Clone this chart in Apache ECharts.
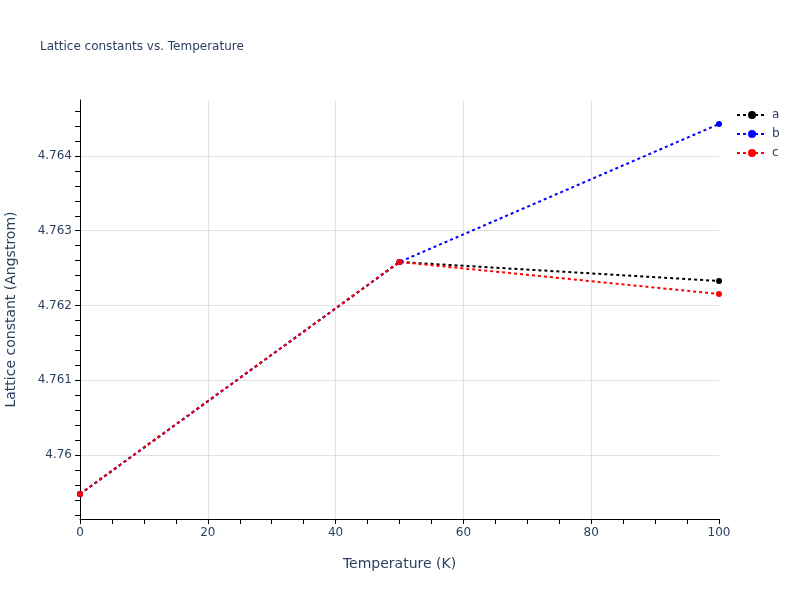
<!DOCTYPE html>
<html>
<head>
<meta charset="utf-8">
<script src="https://cdn.jsdelivr.net/npm/echarts@6/dist/echarts.min.js"></script>
<style>
    html, body { margin: 0; padding: 0; background: #fff; }
    #chart { width: 800px; height: 600px; }
</style>
</head>
<body>
<div id="chart"></div>
<script>
const temps = [0, 50, 100];
const aVals = [4.759478, 4.762582, 4.762328];
const bVals = [4.759478, 4.762582, 4.764428];
const cVals = [4.759478, 4.762582, 4.762154];
const yMajorTicks = [4.760, 4.761, 4.762, 4.763, 4.764];
const yMin = 4.759144;
const yMax = 4.764749;

// minor ticks every 0.0002 inside the range
const yMinorTicks = [];
for (let v = 4.7592; v <= yMax; v += 0.0002) {
    yMinorTicks.push(Math.round(v * 1e4) / 1e4);
}

const textColor = '#2a3f5f';
const font = '"DejaVu Sans", verdana, arial, sans-serif';

function lineSeries(name, color, vals) {
    return {
        name: name,
        type: 'line',
        yAxisIndex: 0,
        data: temps.map((t, i) => [t, vals[i]]),
        symbol: 'circle',
        symbolSize: 6,
        itemStyle: { color: color },
        lineStyle: { color: color, width: 2, type: [3, 3] },
        emphasis: { disabled: true }
    };
}

const chart = echarts.init(document.getElementById('chart'));
chart.setOption({
    animation: false,
    title: {
        text: 'Lattice constants vs. Temperature',
        left: 35,
        top: 36,
        textStyle: { fontFamily: font, fontSize: 12, fontWeight: 'normal', color: textColor }
    },
    legend: {
        orient: 'vertical',
        left: 731,
        top: 104,
        itemWidth: 30,
        itemHeight: 10,
        itemGap: 7,
        textStyle: { fontFamily: font, fontSize: 12, color: textColor },
        data: ['a', 'b', 'c']
    },
    grid: { left: 80, right: 81, top: 100, bottom: 81, outerBoundsMode: 'none', containLabel: false },
    xAxis: {
        type: 'value',
        min: 0,
        max: 100,
        interval: 20,
        name: 'Temperature (K)',
        nameLocation: 'middle',
        nameGap: 38,
        nameTextStyle: { fontFamily: font, fontSize: 14, color: textColor },
        axisLine: { show: true, onZero: false, lineStyle: { color: '#000', width: 1 } },
        axisTick: { show: true, length: 5, lineStyle: { color: '#000' } },
        minorTick: { show: true, splitNumber: 4, length: 5, lineStyle: { color: '#000' } },
        axisLabel: { fontFamily: font, fontSize: 12, color: textColor, margin: 8 },
        splitLine: { show: true, showMinLine: false, showMaxLine: false, lineStyle: { color: '#e2e2e2', width: 1 } }
    },
    yAxis: [
        {
            type: 'value',
            min: yMin,
            max: yMax,
            name: 'Lattice constant (Angstrom)',
            nameLocation: 'middle',
            nameGap: 62,
            nameTextStyle: { fontFamily: font, fontSize: 14, color: textColor },
            axisLine: { show: false },
            axisTick: { show: false, customValues: yMajorTicks },
            axisLabel: {
                customValues: yMajorTicks,
                fontFamily: font, fontSize: 12, color: textColor, margin: 8,
                formatter: v => String(+v.toFixed(3))
            },
            splitLine: { show: true, lineStyle: { color: '#e2e2e2', width: 1 } }
        },
        {
            type: 'value',
            min: yMin,
            max: yMax,
            position: 'left',
            axisLine: { show: true, onZero: false, lineStyle: { color: '#000', width: 1 } },
            axisTick: { show: true, length: 5, customValues: yMinorTicks, lineStyle: { color: '#000' } },
            axisLabel: { show: false },
            splitLine: { show: false }
        }
    ],
    series: [
        lineSeries('a', '#000000', aVals),
        lineSeries('b', '#0000ff', bVals),
        lineSeries('c', '#ff0000', cVals)
    ]
});
</script>
</body>
</html>
